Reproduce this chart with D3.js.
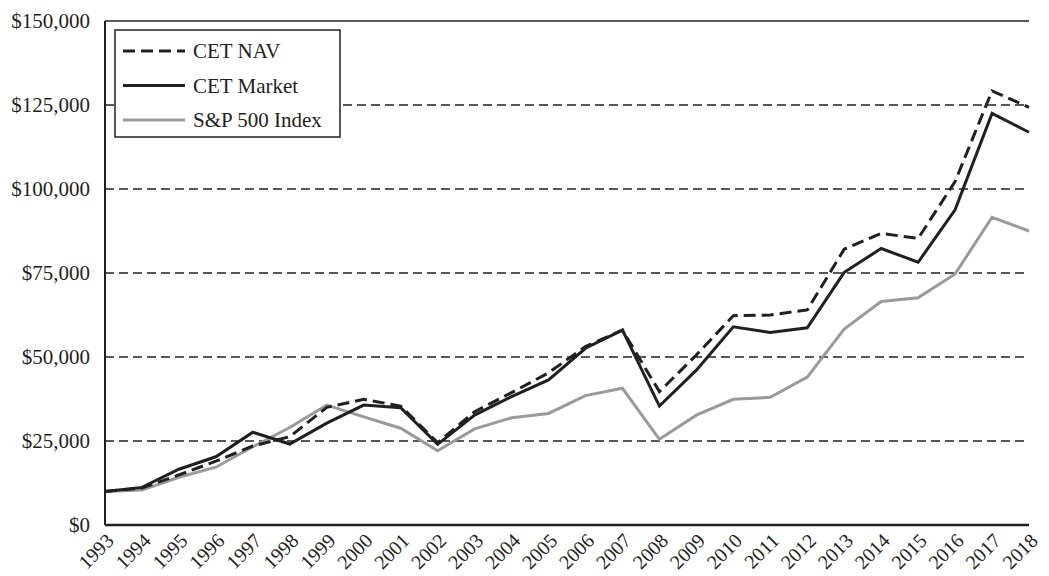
<!DOCTYPE html>
<html>
<head>
<meta charset="utf-8">
<script src="https://cdn.jsdelivr.net/npm/d3@7"></script>
<style>
  body { margin: 0; background: #fff; }
  svg text { font-family: "Liberation Serif", "Times New Roman", serif; fill: #231f20; }
</style>
</head>
<body>
<svg id="chart" width="1049" height="576"></svg>
<script>
// Growth of $10,000 (year end values)
const years = d3.range(1993, 2019);
const cetNav = [10000, 11000, 14900, 19000, 23500, 26300, 35000, 37400, 35400, 24500, 33700, 39400, 45300, 53100, 58000, 39700, 50600, 62300, 62500, 64000, 82100, 86800, 85300, 102200, 129200, 124300];
const cetMarket = [10000, 11200, 16600, 20300, 27600, 24100, 30300, 35700, 34900, 24000, 32700, 38200, 43200, 52600, 58000, 35400, 46100, 59000, 57300, 58700, 75200, 82300, 78200, 93800, 122500, 116900];
const sp500 = [10000, 10400, 14200, 17200, 23300, 29000, 35700, 32200, 28800, 22100, 28600, 31900, 33200, 38500, 40700, 25500, 32700, 37400, 38000, 44000, 58300, 66500, 67600, 74700, 91600, 87500];
const yTicks = [0, 25000, 50000, 75000, 100000, 125000, 150000];

const series = [
    { name: "CET NAV", values: cetNav, color: "#231f20", dash: "12,6" },
    { name: "CET Market", values: cetMarket, color: "#231f20", dash: null },
    { name: "S&P 500 Index", values: sp500, color: "#999a9c", dash: null }
];

const margin = { top: 21, right: 20, bottom: 51, left: 105 };
const width = 1049 - margin.left - margin.right;
const height = 576 - margin.top - margin.bottom;

const svg = d3.select("#chart")
    .append("g")
    .attr("transform", `translate(${margin.left}, ${margin.top})`);

const x = d3.scaleLinear().domain([1993, 2018]).range([0, width]);
const y = d3.scaleLinear().domain([0, 150000]).range([height, 0]);

// dashed gridlines
svg.selectAll(".grid")
    .data(yTicks.filter(d => d > 0 && d < 150000))
    .enter()
    .append("line")
    .attr("x1", 0)
    .attr("x2", width - 5)
    .attr("y1", d => y(d))
    .attr("y2", d => y(d))
    .style("stroke", "#231f20")
    .style("stroke-width", 1.5)
    .style("stroke-dasharray", "9,5");

// top border
svg.append("line")
    .attr("x1", 0).attr("x2", width)
    .attr("y1", y(150000)).attr("y2", y(150000))
    .style("stroke", "#231f20").style("stroke-width", 1.5);

// y axis labels
svg.selectAll(".yLabel")
    .data(yTicks)
    .enter()
    .append("text")
    .text(d => d3.format("$,")(d))
    .attr("x", -15)
    .attr("y", d => y(d))
    .attr("dy", "0.35em")
    .style("text-anchor", "end")
    .style("font-size", "21px");

// x axis labels (rotated)
svg.selectAll(".xLabel")
    .data(years)
    .enter()
    .append("text")
    .text(d => d)
    .attr("transform", d => `translate(${x(d) + 10}, ${height + 17}) rotate(-45)`)
    .style("text-anchor", "end")
    .style("font-size", "20px");

// lines
const line = d3.line()
    .x((d, i) => x(years[i]))
    .y(d => y(d));

series.slice().reverse().forEach(s => {
    svg.append("path")
        .datum(s.values)
        .attr("d", line)
        .style("fill", "none")
        .style("stroke", s.color)
        .style("stroke-width", 3)
        .style("stroke-linejoin", "miter")
        .style("stroke-dasharray", s.dash);
});

// axes lines
svg.append("line")
    .attr("x1", 0).attr("x2", 0)
    .attr("y1", 0).attr("y2", height)
    .style("stroke", "#231f20").style("stroke-width", 2);
svg.append("line")
    .attr("x1", 0).attr("x2", width)
    .attr("y1", height).attr("y2", height)
    .style("stroke", "#231f20").style("stroke-width", 2.5);

// legend
const legend = svg.append("g").attr("transform", "translate(10, 9)");
legend.append("rect")
    .attr("width", 225)
    .attr("height", 107)
    .style("fill", "#fff")
    .style("stroke", "#231f20")
    .style("stroke-width", 1.5);

series.forEach((s, i) => {
    const ly = 21 + i * 34.5;
    legend.append("line")
        .attr("x1", 8).attr("x2", 70)
        .attr("y1", ly).attr("y2", ly)
        .style("stroke", s.color)
        .style("stroke-width", 3)
        .style("stroke-dasharray", s.dash);
    legend.append("text")
        .text(s.name)
        .attr("x", 78)
        .attr("y", ly)
        .attr("dy", "0.35em")
        .style("font-size", "21px");
});
</script>
</body>
</html>
